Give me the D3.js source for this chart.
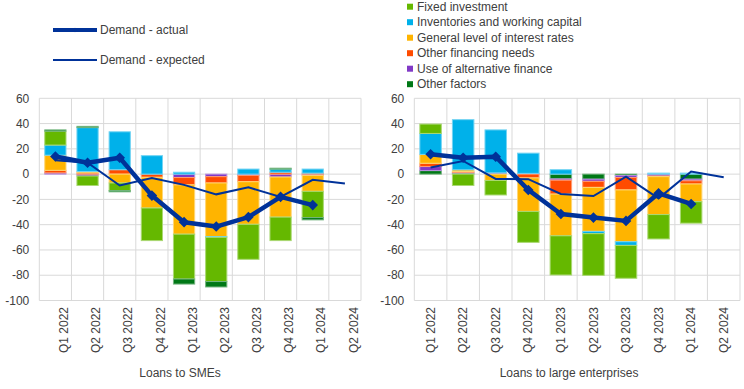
<!DOCTYPE html>
<html lang="en">
<head>
<meta charset="UTF-8">
<title>Loan demand drivers</title>
<script src="https://d3js.org/d3.v7.min.js"></script>
<style>
  body {margin: 0; background: #fff}
  text {font-family: 'Liberation Sans', Arial, sans-serif; font-size: 12px; fill: #404040}
</style>
</head>
<body>
<script>
const width  = 744;
const height = 389;

const quarters = ["Q1 2022", "Q2 2022", "Q3 2022", "Q4 2022", "Q1 2023",
                  "Q2 2023", "Q3 2023", "Q4 2023", "Q1 2024", "Q2 2024"];
const factors  = ["Fixed investment", "Inventories and working capital",
                  "General level of interest rates", "Other financing needs",
                  "Use of alternative finance", "Other factors"];
const colors   = ["#65b800", "#00b1ea", "#ffb400", "#ff4b00", "#8139c6", "#007816"];
const yTicks   = [60, 40, 20, 0, -20, -40, -60, -80, -100];

// Loans to SMEs
const smeFixed     = [11, -7.5, -6, -25.8, -35.5, -35, -27.7, -18.6, -20.8, 0];
const smeInv       = [8, 34.8, 30, 14.6, 1.5, -0.6, 4, 2.4, 3.2, 0];
const smeRates     = [12, 1, -7, -24.3, -39, -42.4, -33.7, -31.7, -12.6, 0];
const smeOtherFin  = [2, 1, 3.5, -2.5, -5.8, -5, -5, 1.5, 0.8, 0];
const smeAlt       = [1, -1.5, 0, 0, -2.7, -2, -1, -2.3, -1, 0];
const smeOther     = [1, 1, -1, 0, -4, -4.3, 0, 0.8, -1.8, 0];
const smeActual    = [14, 9, 13, -17, -38, -41.5, -34, -18, -24.5, null];
const smeExpected  = [11, 9, -9, -3, -8.5, -16, -10.5, -18, -4.5, -7.5];

// Loans to large enterprises
const lgFixed      = [7.4, -9, -11.5, -24.5, -31, -33, -26, -19.3, -17, 0];
const lgInv        = [16.6, 39.7, 34, 16, 3.5, -1.8, -2.9, 0.8, 0.8, 0];
const lgRates      = [7, 1.3, -5, -26.5, -33, -34.8, -41, -30, -14, 0];
const lgOtherFin   = [2.6, 0.8, 0, -3, -11, -4.8, -9.8, -0.5, -2.5, 0];
const lgAlt        = [3.2, 0.5, 1, 0.6, -1, -1.7, -1.5, -1.5, -1.3, 0];
const lgOther      = [2.8, 0.8, 0, 0, -3.8, -4, -1.2, 0, -4, 0];
const lgActual     = [15.7, 13, 13.8, -12.5, -31.6, -34.4, -37, -15.2, -23.6, null];
const lgExpected   = [5.2, 10.4, -3.8, -4, -15.7, -17.3, -2, -19.2, 2, -2.5];

const color = d3.scaleOrdinal().domain(factors).range(colors);
const lineBlue = "#003299";

const svg = d3.select("body").append("svg")
    .attr("width", width)
    .attr("height", height);

const y = d3.scaleLinear().domain([-100, 60]).range([300.5, 98.3]);

function drawPanel(cfg) {
    const rows = quarters.map((q, i) => {
        const r = {q: q};
        factors.forEach((f, k) => r[f] = cfg.values[k][i]);
        return r;
    });

    const x = d3.scaleBand().domain(quarters)
        .range([cfg.left, cfg.right])
        .paddingInner(0.34).paddingOuter(0.17);
    const step = x.step();

    const g = svg.append("g");

    // grid
    g.selectAll("line.h").data(yTicks).enter().append("line")
        .attr("x1", cfg.left).attr("x2", cfg.right)
        .attr("y1", d => y(d)).attr("y2", d => y(d))
        .attr("stroke", "#d9d9d9");
    g.selectAll("line.v").data(d3.range(quarters.length + 1)).enter().append("line")
        .attr("x1", i => cfg.left + i * step).attr("x2", i => cfg.left + i * step)
        .attr("y1", y(60)).attr("y2", y(-100))
        .attr("stroke", "#d9d9d9");

    // y labels
    g.selectAll("text.y").data(yTicks).enter().append("text")
        .attr("x", cfg.left - 10).attr("y", d => y(d))
        .attr("dy", "0.35em").attr("text-anchor", "end")
        .text(d => d);

    // stacked bars
    const series = d3.stack().keys(cfg.order).offset(d3.stackOffsetDiverging)(rows);
    g.selectAll("g.s").data(series).enter().append("g")
        .attr("fill", d => color(d.key))
        .attr("stroke", d => d3.interpolateRgb(color(d.key), "#fff")(0.45))
        .selectAll("rect")
        .data(d => d.filter(p => p[1] - p[0] !== 0))
        .enter().append("rect")
        .attr("x", d => x(d.data.q))
        .attr("width", x.bandwidth())
        .attr("y", d => y(Math.max(d[0], d[1])))
        .attr("height", d => Math.abs(y(d[0]) - y(d[1])));

    const cx = q => x(q) + x.bandwidth() / 2;

    // expected
    g.append("path")
        .datum(quarters.map((q, i) => [q, cfg.expected[i]]))
        .attr("fill", "none").attr("stroke", lineBlue).attr("stroke-width", 2)
        .attr("d", d3.line().x(d => cx(d[0])).y(d => y(d[1])));

    // actual
    const act = quarters.map((q, i) => [q, cfg.actual[i]]).filter(d => d[1] != null);
    g.append("path")
        .datum(act)
        .attr("fill", "none").attr("stroke", lineBlue).attr("stroke-width", 4.5)
        .attr("stroke-linejoin", "round")
        .attr("d", d3.line().x(d => cx(d[0])).y(d => y(d[1])));
    g.selectAll("path.m").data(act).enter().append("path")
        .attr("d", d3.symbol(d3.symbolSquare, 56))
        .attr("fill", lineBlue)
        .attr("transform", d => `translate(${cx(d[0])},${y(d[1])}) rotate(45)`);

    // x labels
    g.selectAll("text.x").data(quarters).enter().append("text")
        .attr("transform", d => `translate(${cx(d) + cfg.labelShift},307) rotate(-90)`)
        .attr("dy", "0.35em").attr("text-anchor", "end")
        .text(d => d);

    g.append("text")
        .attr("x", cfg.titleX).attr("y", 377)
        .attr("text-anchor", "middle")
        .text(cfg.title);
}

drawPanel({
    left: 39.3, right: 361, labelShift: 8.5, titleX: 180,
    title: "Loans to SMEs",
    values: [smeFixed, smeInv, smeRates, smeOtherFin, smeAlt, smeOther],
    order: [factors[4], factors[3], factors[2], factors[1], factors[0], factors[5]],
    actual: smeActual, expected: smeExpected
});

drawPanel({
    left: 414.3, right: 740, labelShift: 0, titleX: 569,
    title: "Loans to large enterprises",
    values: [lgFixed, lgInv, lgRates, lgOtherFin, lgAlt, lgOther],
    order: [factors[5], factors[4], factors[3], factors[2], factors[1], factors[0]],
    actual: lgActual, expected: lgExpected
});

// legend: lines
const legL = svg.append("g");
legL.append("line").attr("x1", 53).attr("x2", 97).attr("y1", 30).attr("y2", 30)
    .attr("stroke", lineBlue).attr("stroke-width", 4);
legL.append("path").attr("d", d3.symbol(d3.symbolSquare, 10))
    .attr("fill", lineBlue).attr("transform", "translate(75,30) rotate(45)");
legL.append("text").attr("x", 100).attr("y", 30).attr("dy", "0.35em").text("Demand - actual");
legL.append("line").attr("x1", 53).attr("x2", 97).attr("y1", 60).attr("y2", 60)
    .attr("stroke", lineBlue).attr("stroke-width", 2);
legL.append("text").attr("x", 100).attr("y", 60).attr("dy", "0.35em").text("Demand - expected");

// legend: factors
const legR = svg.append("g");
const items = legR.selectAll("g").data(factors).enter().append("g")
    .attr("transform", (d, i) => `translate(407,${6.7 + i * 15.5})`);
items.append("rect").attr("x", 0).attr("y", -3).attr("width", 6).attr("height", 6)
    .attr("fill", d => color(d));
items.append("text").attr("x", 10).attr("dy", "0.35em").text(d => d);
</script>
</body>
</html>
